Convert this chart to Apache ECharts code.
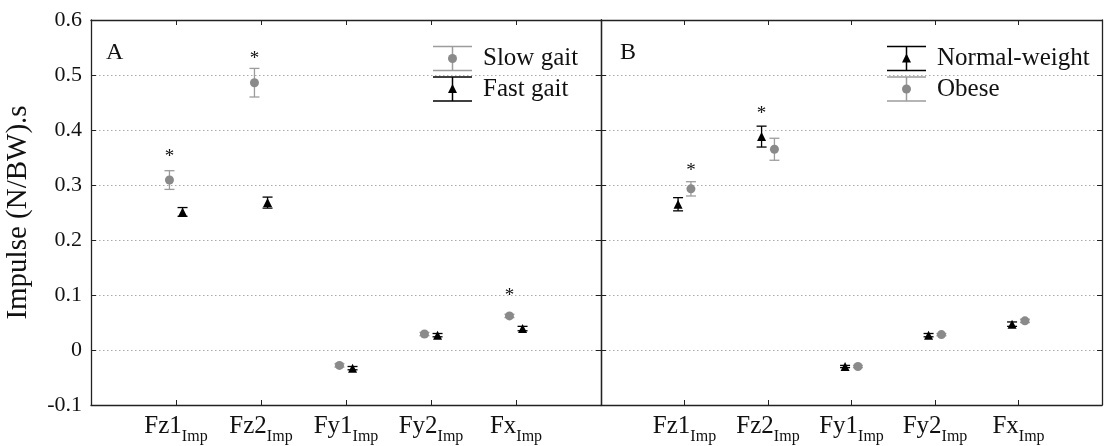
<!DOCTYPE html>
<html>
<head>
<meta charset="utf-8">
<script src="https://cdn.jsdelivr.net/npm/echarts@6/dist/echarts.min.js"></script>
<style>html,body{margin:0;padding:0;background:#fff;}#c{width:1105px;height:446px;}</style>
</head>
<body>
<div id="c"></div>
<script>
// ---- data ----
var categories = ['Fz1', 'Fz2', 'Fy1', 'Fy2', 'Fx'];
var subscript = 'Imp';
var yTicks = [-0.1, 0, 0.1, 0.2, 0.3, 0.4, 0.5, 0.6];
var yTitle = 'Impulse (N/BW).s';

// Panel A: gait speed
var slowMean = [0.309, 0.486, -0.028, 0.029, 0.062];
var slowErr  = [0.017, 0.026, 0.003, 0.003, 0.003];
var fastMean = [0.251, 0.268, -0.033, 0.027, 0.039];
var fastErr  = [0.008, 0.010, 0.003, 0.003, 0.004];
// significance markers A: [categoryIndex, group, y]
var sigA = [[0, 'slow', 0.358], [1, 'slow', 0.536], [4, 'slow', 0.105]];

// Panel B: body weight
var normalMean = [0.265, 0.388, -0.030, 0.027, 0.047];
var normalErr  = [0.012, 0.019, 0.002, 0.003, 0.004];
var obeseMean  = [0.293, 0.365, -0.030, 0.028, 0.053];
var obeseErr   = [0.013, 0.020, 0.002, 0.002, 0.003];
var sigB = [[0, 'obese', 0.333], [1, 'normal', 0.436]];

// ---- styling / layout ----
var SERIF = '"Liberation Serif", "Times New Roman", serif';
var GRAY = '#8a8a8a';
var GRAY_BAR = '#9c9c9c';
var BLACK = '#000';
var OFF = 0.077;
var groupOffset = { slow: -OFF, fast: OFF, normal: -OFF, obese: OFF };

function pts(mean, group) {
  return mean.map(function (m, i) { return [i + 1 + groupOffset[group], m]; });
}
function errs(mean, err, group) {
  return mean.map(function (m, i) { return [i + 1 + groupOffset[group], m - err[i], m + err[i]]; });
}
function sigPts(list) {
  return list.map(function (s) { return [s[0] + 1 + groupOffset[s[1]], s[2]]; });
}

function errRender(color) {
  return function (params, api) {
    var x = api.value(0);
    var top = api.coord([x, api.value(2)]);
    var bot = api.coord([x, api.value(1)]);
    var hw = 5;
    var st = { stroke: color, lineWidth: 1.3 };
    return {
      type: 'group',
      children: [
        { type: 'line', shape: { x1: top[0], y1: top[1], x2: bot[0], y2: bot[1] }, style: st },
        { type: 'line', shape: { x1: top[0] - hw, y1: top[1], x2: top[0] + hw, y2: top[1] }, style: st },
        { type: 'line', shape: { x1: bot[0] - hw, y1: bot[1], x2: bot[0] + hw, y2: bot[1] }, style: st }
      ]
    };
  };
}
function sigRender(params, api) {
  var p = api.coord([api.value(0), api.value(1)]);
  return {
    type: 'text', x: p[0], y: p[1] + 4,
    style: { text: '*', fontFamily: SERIF, fontSize: 19, fill: '#111', align: 'center', verticalAlign: 'middle' }
  };
}

var GRID_TOP = 20, GRID_H = 385, GRID_W = 510;
var grids = [
  { left: 91, top: GRID_TOP, width: GRID_W, height: GRID_H },
  { left: 601, top: GRID_TOP, width: GRID_W, height: GRID_H }
];
var AXIS_LINE = { show: true, onZero: false, lineStyle: { color: '#222', width: 1.3 } };
var AXIS_TICK = { show: true, inside: true, length: 5, lineStyle: { color: '#222' } };

function xAxisBottom(gi) {
  return {
    type: 'value', gridIndex: gi, min: 0, max: 6, interval: 1, position: 'bottom',
    axisLine: AXIS_LINE, axisTick: AXIS_TICK,
    splitLine: { show: false },
    axisLabel: {
      margin: 8,
      formatter: function (v) {
        var i = Math.round(v) - 1;
        if (i < 0 || i >= categories.length) return '';
        return '{m|' + categories[i] + '}{s|' + subscript + '}';
      },
      rich: {
        m: { fontFamily: SERIF, fontSize: 25, color: '#111', verticalAlign: 'bottom', lineHeight: 26 },
        s: { fontFamily: SERIF, fontSize: 16, color: '#111', verticalAlign: 'bottom', lineHeight: 20, padding: [0, 0, -6, 0] }
      }
    }
  };
}
function xAxisTop(gi) {
  return {
    type: 'value', gridIndex: gi, min: 0, max: 6, interval: 1, position: 'top',
    axisLine: AXIS_LINE, axisTick: AXIS_TICK,
    axisLabel: { show: false }, splitLine: { show: false }
  };
}
function yAxis(gi, pos, labels, split) {
  return {
    type: 'value', gridIndex: gi, min: yTicks[0], max: yTicks[yTicks.length - 1], interval: 0.1,
    position: pos,
    name: labels ? yTitle : '',
    nameLocation: 'middle', nameGap: 58,
    nameTextStyle: { fontFamily: SERIF, fontSize: 29, color: '#111' },
    axisLine: AXIS_LINE, axisTick: AXIS_TICK,
    splitLine: { show: split, lineStyle: { color: '#aaa', type: [1.5, 2.5], width: 1 } },
    axisLabel: {
      show: labels, fontFamily: SERIF, fontSize: 22, color: '#111', margin: 9,
      formatter: function (v) { var r = Math.round(v * 10) / 10; return r === 0 ? '0' : r.toFixed(1); }
    }
  };
}

function scatter(name, data, xi, symbol, color, size) {
  return {
    name: name, type: 'scatter', xAxisIndex: xi, yAxisIndex: xi, data: data,
    symbol: symbol, symbolSize: size, itemStyle: { color: color, opacity: 1 }, z: 5, silent: true
  };
}
function errSeries(data, xi, color) {
  return {
    type: 'custom', xAxisIndex: xi, yAxisIndex: xi, data: data, renderItem: errRender(color),
    encode: { x: 0, y: [1, 2] }, z: 3, silent: true
  };
}
function sigSeries(data, xi) {
  return {
    type: 'custom', xAxisIndex: xi, yAxisIndex: xi, data: data, renderItem: sigRender,
    encode: { x: 0, y: 1 }, z: 6, silent: true
  };
}

var option = {
  animation: false,
  backgroundColor: '#fff',
  grid: grids,
  xAxis: [xAxisBottom(0), xAxisBottom(1), xAxisTop(0), xAxisTop(1)],
  yAxis: [yAxis(0, 'left', true, true), yAxis(1, 'left', false, true), yAxis(0, 'right', false, false), yAxis(1, 'right', false, false)],
  series: [
    errSeries(errs(slowMean, slowErr, 'slow'), 0, GRAY_BAR),
    errSeries(errs(fastMean, fastErr, 'fast'), 0, BLACK),
    scatter('Slow gait', pts(slowMean, 'slow'), 0, 'circle', GRAY, 9),
    scatter('Fast gait', pts(fastMean, 'fast'), 0, 'triangle', BLACK, 9),
    sigSeries(sigPts(sigA), 0),
    errSeries(errs(normalMean, normalErr, 'normal'), 1, BLACK),
    errSeries(errs(obeseMean, obeseErr, 'obese'), 1, GRAY_BAR),
    scatter('Normal-weight', pts(normalMean, 'normal'), 1, 'triangle', BLACK, 9),
    scatter('Obese', pts(obeseMean, 'obese'), 1, 'circle', GRAY, 9),
    sigSeries(sigPts(sigB), 1)
  ],
  graphic: []
};

// legend & panel letters (drawn as graphic; text is real text)
function legendItem(x, yMid, color, marker, label) {
  var capW = 39, halfH = 12, cx = x + capW / 2;
  var st = { stroke: color, lineWidth: 1.5 };
  var items = [
    { type: 'line', shape: { x1: x, y1: yMid - halfH, x2: x + capW, y2: yMid - halfH }, style: st },
    { type: 'line', shape: { x1: x, y1: yMid + halfH, x2: x + capW, y2: yMid + halfH }, style: st },
    { type: 'line', shape: { x1: cx, y1: yMid - halfH, x2: cx, y2: yMid + halfH }, style: st }
  ];
  if (marker === 'circle') {
    items.push({ type: 'circle', shape: { cx: cx, cy: yMid, r: 4.5 }, style: { fill: GRAY } });
  } else {
    items.push({ type: 'polygon', shape: { points: [[cx, yMid - 5], [cx - 4.5, yMid + 4], [cx + 4.5, yMid + 4]] }, style: { fill: BLACK } });
  }
  items.push({ type: 'text', x: x + 50, y: yMid, style: { text: label, fontFamily: SERIF, fontSize: 25, fill: '#111', verticalAlign: 'middle' } });
  return items;
}
var g = [];
g = g.concat(legendItem(433, 58.5, GRAY_BAR, 'circle', 'Slow gait'));
g = g.concat(legendItem(433, 89, BLACK, 'triangle', 'Fast gait'));
g = g.concat(legendItem(887, 58.5, BLACK, 'triangle', 'Normal-weight'));
g = g.concat(legendItem(887, 89, GRAY_BAR, 'circle', 'Obese'));
g.push({ type: 'text', x: 106, y: 53, style: { text: 'A', fontFamily: SERIF, fontSize: 24, fill: '#111', verticalAlign: 'middle' } });
g.push({ type: 'text', x: 620, y: 53, style: { text: 'B', fontFamily: SERIF, fontSize: 24, fill: '#111', verticalAlign: 'middle' } });
option.graphic = g;

var chart = echarts.init(document.getElementById('c'), null, { renderer: 'canvas' });
chart.setOption(option);
</script>
</body>
</html>
